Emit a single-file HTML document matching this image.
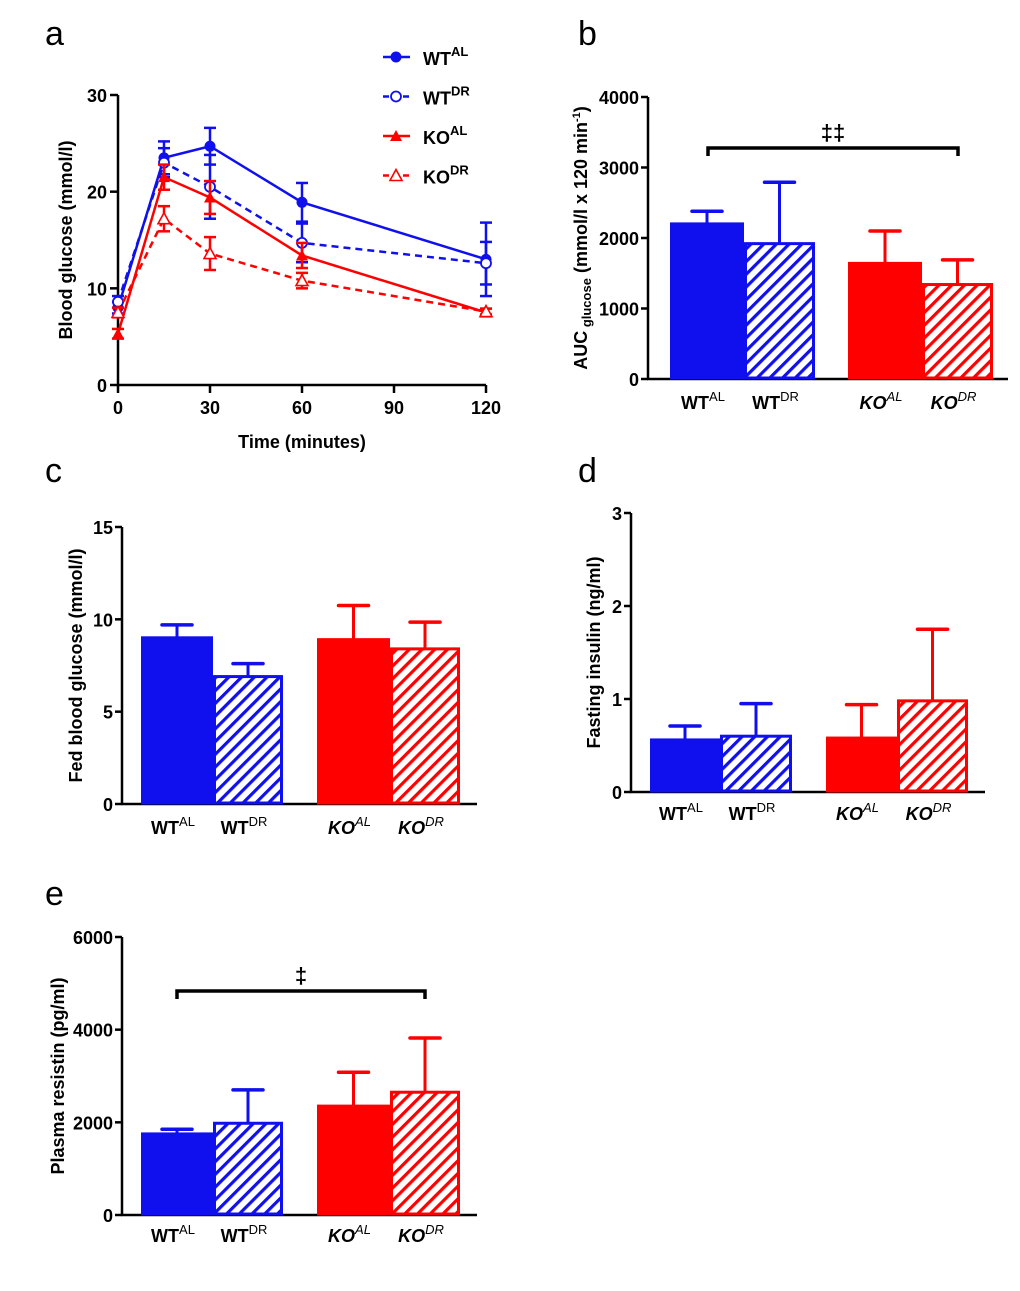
<!DOCTYPE html>
<html><head><meta charset="utf-8"><style>
body{margin:0;background:#fff;}
svg{display:block;font-family:"Liberation Sans",sans-serif;}
.t{font-weight:bold;font-size:18px;}
</style></head><body>
<svg id="s" width="1020" height="1291" viewBox="0 0 1020 1291">
<defs>
<pattern id="hb" patternUnits="userSpaceOnUse" width="9" height="9" patternTransform="rotate(45)"><rect width="9" height="9" fill="#fff"/><rect width="3.2" height="9" fill="#1010ee"/></pattern>
<pattern id="hr" patternUnits="userSpaceOnUse" width="9" height="9" patternTransform="rotate(45)"><rect width="9" height="9" fill="#fff"/><rect width="3.2" height="9" fill="#ff0000"/></pattern>
</defs>
</svg>
<script>
// Panel a data
const timePoints=[0,15,30,60,120];
const wtAL=[8.0,23.5,24.7,18.9,13.0];
const wtALerr=[0.6,1.7,1.9,2.0,3.8];
const wtDR=[8.6,23.0,20.5,14.7,12.6];
const wtDRerr=[0.6,1.5,3.3,2.0,2.2];
const koAL=[5.3,21.5,19.4,13.4,7.5];
const koALerr=[0.5,1.3,1.7,1.3,0.4];
const koDR=[7.5,17.2,13.6,10.8,7.6];
const koDRerr=[0.5,1.3,1.7,0.8,0.3];
const xTicksA=[0,30,60,90,120];
const yTicksA=[0,10,20,30];
// Bar panels data
const groups=["WT AL","WT DR","KO AL","KO DR"];
const aucVals=[2200,1920,1640,1340];
const aucErr=[180,870,460,350];
const fedVals=[9.0,6.9,8.9,8.4];
const fedErr=[0.7,0.7,1.85,1.45];
const insVals=[0.56,0.6,0.58,0.98];
const insErr=[0.15,0.35,0.36,0.77];
const resVals=[1750,1980,2350,2650];
const resErr=[100,720,730,1170];

const S=document.getElementById('s');
const NS='http://www.w3.org/2000/svg';
function el(tag,attrs,parent,text){const e=document.createElementNS(NS,tag);for(const k in attrs)e.setAttribute(k,attrs[k]);if(text!==undefined)e.textContent=text;(parent||S).appendChild(e);return e;}
const BLUE='#1010ee',RED='#ff0000';

// panel letters
[['a',45,45],['b',578,45],['c',45,482],['d',578,482],['e',45,905]].forEach(p=>{
 const t=el('text',{x:p[1],y:p[2],'font-size':34},S,p[0]);
 
 
});

// ---- Panel a ----
const ga=el('g',{});


const ax=v=>118+v*(368/120), ay=v=>385-v*(290/30);
el('line',{x1:118,y1:ay(30),x2:118,y2:386,stroke:'#000','stroke-width':2.5},ga);
el('line',{x1:117,y1:385,x2:ax(120),y2:385,stroke:'#000','stroke-width':2.5},ga);
yTicksA.forEach(v=>{el('line',{x1:110,y1:ay(v),x2:118,y2:ay(v),stroke:'#000','stroke-width':2.5},ga);
 const t=el('text',{x:107,y:ay(v)+7,'text-anchor':'end',class:'t'},ga,v);});
xTicksA.forEach(v=>{el('line',{x1:ax(v),y1:385,x2:ax(v),y2:393,stroke:'#000','stroke-width':2.5},ga);
 const t=el('text',{x:ax(v),y:414,'text-anchor':'middle',class:'t'},ga,v);});
let xt=el('text',{x:302,y:448,'text-anchor':'middle',class:'t'},ga,'Time (minutes)');

let yt=el('text',{x:0,y:0,'text-anchor':'middle',class:'t','font-size':19,transform:'translate(72,240) rotate(-90)'},ga,'Blood glucose (mmol/l)');

function marker(g,type,color,x,y){
 if(type=='dot')el('circle',{cx:x,cy:y,r:5.5,fill:color},g);
 else if(type=='ring')el('circle',{cx:x,cy:y,r:5,fill:'#fff',stroke:color,'stroke-width':1.8},g);
 else if(type=='tri')el('polygon',{points:`${x},${y-6} ${x-6},${y+5} ${x+6},${y+5}`,fill:color},g);
 else el('polygon',{points:`${x},${y-6} ${x-6},${y+5} ${x+6},${y+5}`,fill:'#fff',stroke:color,'stroke-width':1.6},g);
}
const series=[[wtAL,wtALerr,BLUE,'dot',null,'wt-al'],[wtDR,wtDRerr,BLUE,'ring','7,5','wt-dr'],[koAL,koALerr,RED,'tri',null,'ko-al'],[koDR,koDRerr,RED,'otri','7,5','ko-dr']];
series.forEach(s=>{
 const g=el('g',{},ga);
 
 
 const pts=timePoints.map((t,i)=>ax(t)+','+ay(s[0][i])).join(' ');
 const pl={points:pts,fill:'none',stroke:s[2],'stroke-width':2.5};if(s[4])pl['stroke-dasharray']=s[4];
 el('polyline',pl,g);
 timePoints.forEach((t,i)=>{const x=ax(t),y1=ay(s[0][i]+s[1][i]),y2=ay(s[0][i]-s[1][i]);
  el('line',{x1:x,y1:y1,x2:x,y2:y2,stroke:s[2],'stroke-width':2.5},g);
  el('line',{x1:x-6,y1:y1,x2:x+6,y2:y1,stroke:s[2],'stroke-width':2.5},g);
  el('line',{x1:x-6,y1:y2,x2:x+6,y2:y2,stroke:s[2],'stroke-width':2.5},g);
  marker(g,s[3],s[2],x,ay(s[0][i]));});
});
// legend
[['WT','AL',BLUE,'dot',null],['WT','DR',BLUE,'ring','6,4'],['KO','AL',RED,'tri',null],['KO','DR',RED,'otri','6,4']].forEach((l,i)=>{
 const g=el('g',{},ga);
 const y=57+i*39.5;const o={x1:383,y1:y,x2:410,y2:y,stroke:l[2],'stroke-width':2.5};if(l[4])o['stroke-dasharray']=l[4];
 el('line',o,g);marker(g,l[3],l[2],396,y);
 const t=el('text',{x:423,y:y+8,class:'t'},g,l[0]);el('tspan',{'font-size':13,dy:-9},t,l[1]);
});

// ---- Bar panels ----
function barPanel(cfg,vals,errs){
 const g=el('g',{});
 const y=v=>cfg.y0-v*(cfg.y0-cfg.yTop)/cfg.max;
 el('line',{x1:cfg.ax,y1:cfg.yTop,x2:cfg.ax,y2:cfg.y0+1,stroke:'#000','stroke-width':2.5},g);
 el('line',{x1:cfg.ax-1,y1:cfg.y0,x2:cfg.xEnd,y2:cfg.y0,stroke:'#000','stroke-width':2.5},g);
 cfg.ticks.forEach(v=>{el('line',{x1:cfg.ax-7,y1:y(v),x2:cfg.ax,y2:y(v),stroke:'#000','stroke-width':2.5},g);
  const t=el('text',{x:cfg.ax-9,y:y(v)+7,'text-anchor':'end',class:'t'},g,v);});
 const cols=[BLUE,BLUE,RED,RED],fills=[BLUE,'url(#hb)',RED,'url(#hr)'];
 vals.forEach((v,i)=>{const [x1,x2]=cfg.bars[i];const c=(x1+x2)/2;const top=y(v),et=y(v+errs[i]);
  el('line',{x1:c,y1:top,x2:c,y2:et,stroke:cols[i],'stroke-width':3},g);
  el('line',{x1:c-15,y1:et,x2:c+15,y2:et,stroke:cols[i],'stroke-width':3.5,'stroke-linecap':'round'},g);
  const r=el('rect',{x:x1+1.5,y:top,width:x2-x1-3,height:cfg.y0-top-1,fill:fills[i],stroke:cols[i],'stroke-width':3},g);
  
  
  const p=groups[i].split(' ');const it=i>=2?'italic':'normal';
  const t=el('text',{x:c-4,y:cfg.labY,'text-anchor':'middle',class:'t','font-style':it},g,p[0]);
  el('tspan',{'font-size':13,dy:-8,'font-weight':'normal'},t,p[1]);
  
 });
 const yl=el('text',{x:0,y:0,'text-anchor':'middle',class:'t','font-size':17,transform:`translate(${cfg.titleX},${(cfg.y0+cfg.yTop)/2}) rotate(-90)`},g,cfg.title);
 
 if(cfg.sub){yl.textContent='AUC';el('tspan',{'font-size':13,dy:4},yl,' glucose');el('tspan',{dy:-4},yl,' (mmol/l x 120 min');el('tspan',{'font-size':11,dy:-7},yl,'-1');el('tspan',{dy:7},yl,')');}
 if(cfg.br){const [a,b,by,sym]=cfg.br;
  const bg=el('g',{},g);
  el('polyline',{points:`${a},${by+8} ${a},${by} ${b},${by} ${b},${by+8}`,fill:'none',stroke:'#000','stroke-width':3.5},bg);
  el('text',{x:(a+b)/2,y:by-8,'text-anchor':'middle','font-size':22,'font-weight':'bold'},bg,sym);}
}
barPanel({name:'panel-b-auc',ax:648,y0:379,yTop:97,max:4000,ticks:[0,1000,2000,3000,4000],xEnd:1008,bars:[[670,744],[744,815],[848,922],[922,993]],labY:409,titleX:587,sub:true,title:'AUC',br:[708,958,148,'‡‡']},aucVals,aucErr);
barPanel({name:'panel-c-fed-glucose',ax:122,y0:804,yTop:527,max:15,ticks:[0,5,10,15],xEnd:477,bars:[[141,213],[213,283],[317,390],[390,460]],labY:834,titleX:82,title:'Fed blood glucose (mmol/l)'},fedVals,fedErr);
barPanel({name:'panel-d-insulin',ax:631,y0:792,yTop:513,max:3,ticks:[0,1,2,3],xEnd:985,bars:[[650,720],[720,792],[826,897],[897,968]],labY:820,titleX:600,title:'Fasting insulin (ng/ml)'},insVals,insErr);
barPanel({name:'panel-e-resistin',ax:122,y0:1215,yTop:937,max:6000,ticks:[0,2000,4000,6000],xEnd:477,bars:[[141,213],[213,283],[317,390],[390,460]],labY:1242,titleX:64,title:'Plasma resistin (pg/ml)',br:[177,425,991,'‡']},resVals,resErr);
</script>
</body></html>
